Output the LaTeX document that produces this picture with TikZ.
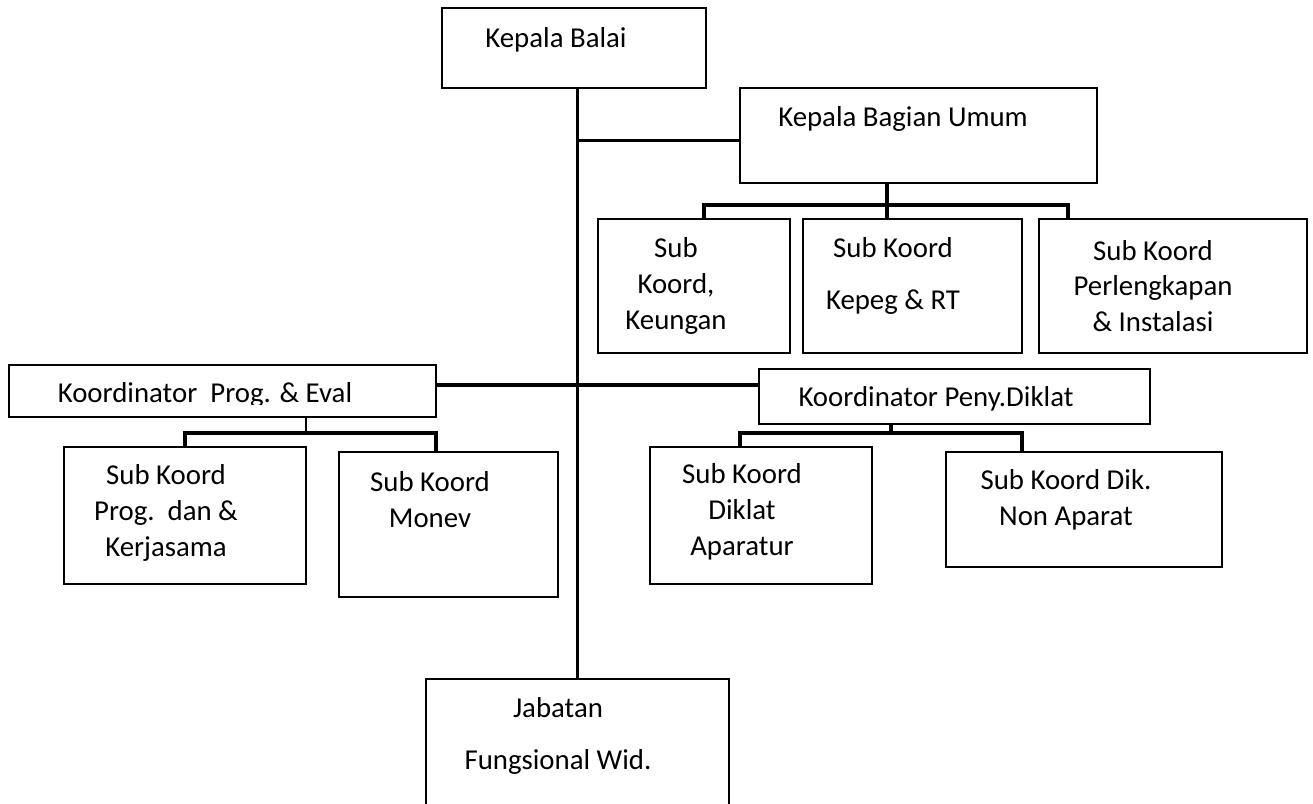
\documentclass[tikz,border=0pt]{standalone}
\usepackage{fontspec}
\setmainfont{Carlito}
\usetikzlibrary{fit}

\tikzset{
  box/.style={draw, rectangle, inner sep=0pt, line width=1.25pt},
  txt/.style={font=\fontsize{16.4}{20.4}\selectfont, align=center, inner sep=0pt},
  link/.style={line width=1.3pt},
  bar/.style={line width=2.3pt, line join=miter},
}

\begin{document}
\begin{tikzpicture}[x=0.02cm, y=-0.02cm]
    \useasboundingbox (0,0) rectangle (1313,804);
    \clip (0,0) rectangle (1313,804);

    % Kotak pimpinan
    \node[box, fit={(442,8) (706,88)}] (kb) {};
    \node[txt, anchor=base] (kbT) at (556,48) {Kepala Balai};
    \node[box, fit={(740,88) (1097,183)}] (kbu) {};
    \node[txt, anchor=base] (kbuT) at (903,127) {Kepala Bagian Umum};

    % Sub koordinator di bawah Kepala Bagian Umum
    \node[box, fit={(598,219) (790,353)}] (skKeu) {};
    \node[txt] (skKeuT) at (676,286) {Sub\\Koord,\\Keungan};
    \node[box, fit={(803,219) (1022,353)}] (skPeg) {};
    \node[txt] (skPegT) at (893,276) {Sub Koord\\[9pt]Kepeg \& RT};
    \node[box, fit={(1039,219) (1307,353)}] (skLkp) {};
    \node[txt] (skLkpT) at (1153,286) {Sub Koord\\Perlengkapan\\\& Instalasi};

    % Koordinator
    \node[box, fit={(9,365) (436,417)}] (kpe) {};
    \begin{scope}
      \clip (9,365) rectangle (436,405);
      \node[txt, anchor=base] (kpeT) at (205,403) {Koordinator\ \ Prog. \& Eval};
    \end{scope}
    \node[box, fit={(759,369) (1150,424)}] (kpd) {};
    \node[txt, anchor=base] (kpdT) at (936,407) {Koordinator Peny.Diklat};

    % Sub koordinator bawah
    \node[box, fit={(64,447) (306,584)}] (skPrg) {};
    \node[txt] (skPrgT) at (166,513) {Sub Koord\\Prog.\ \ dan \&\\Kerjasama};
    \node[box, fit={(339,452) (558,597)}] (skMon) {};
    \node[txt] (skMonT) at (430,500) {Sub Koord\\Monev};
    \node[box, fit={(650,447) (872,584)}] (skApr) {};
    \node[txt] (skAprT) at (742,512) {Sub Koord\\Diklat\\Aparatur};
    \node[box, fit={(946,452) (1222,567)}] (skNon) {};
    \node[txt] (skNonT) at (1066,500) {Sub Koord Dik.\\Non Aparat};

    % Jabatan fungsional
    \node[box, fit={(426,679) (729,840)}] (jab) {};
    \node[txt] (jabT) at (558,736) {Jabatan\\[9.6pt]Fungsional Wid.};

    % Garis utama
    \draw[link] (jab.north |- kb.south) -- (jab.north);
    \draw[link] ([yshift=-2.8pt]kbu.west) -- ([yshift=-2.8pt]kbu.west -| jab.north);
    \draw[bar] ([yshift=3.4pt]kpe.east) -- ([yshift=3.4pt]kpe.east -| kpd.west);

    % Cabang Kepala Bagian Umum
    \coordinate (kbuL) at (704,205);
    \coordinate (kbuM) at (887,205);
    \coordinate (kbuR) at (1068,205);
    \draw[bar] (kbuM |- kbu.south) -- (kbuM |- skPeg.north);
    \draw[bar] (kbuL |- skKeu.north) -- (kbuL) -- (kbuR) -- (kbuR |- skLkp.north);

    % Cabang Koordinator Prog. & Eval
    \coordinate (kpeL) at (185,433);
    \coordinate (kpeM) at (306,433);
    \coordinate (kpeR) at (436,433);
    \draw[link] (kpeM |- kpe.south) -- (kpeM);
    \draw[bar] (kpeL |- skPrg.north) -- (kpeL) -- (kpeR) -- (kpeR |- skMon.north);

    % Cabang Koordinator Peny.Diklat
    \coordinate (kpdL) at (740,433);
    \coordinate (kpdM) at (891,433);
    \coordinate (kpdR) at (1022,433);
    \draw[bar] (kpdM |- kpd.south) -- (kpdM);
    \draw[bar] (kpdL |- skApr.north) -- (kpdL) -- (kpdR) -- (kpdR |- skNon.north);
\end{tikzpicture}
\end{document}
